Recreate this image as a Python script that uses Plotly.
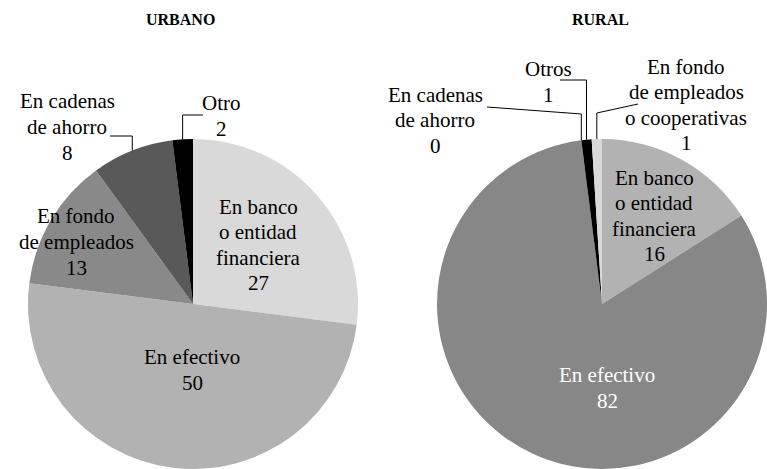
import math
import plotly.graph_objects as go

W, H = 767, 469

# --- data ---
urbano_labels = ["En banco<br>o entidad<br>financiera", "En efectivo",
                 "En fondo<br>de empleados", "En cadenas<br>de ahorro", "Otro"]
urbano_values = [27, 50, 13, 8, 2]
urbano_colors = ["#d9d9d9", "#b2b2b2", "#898989", "#595959", "#000000"]

rural_labels = ["En banco<br>o entidad<br>financiera", "En efectivo",
                "En cadenas<br>de ahorro", "Otros",
                "En fondo<br>de empleados<br>o cooperativas"]
rural_values = [16, 82, 0, 1, 1]
rural_colors = ["#b2b2b2", "#878787", "#595959", "#000000", "#d9d9d9"]

FONT = "Liberation Serif, DejaVu Serif, serif"
R = 165        # pie radius in px
LINE_H = 25.5  # label line spacing in px


def px2paper(x, y):
    return x / W, 1 - y / H


def mid_edge(values, i, cx, cy, r):
    """Point on the pie edge at the middle of slice i (clockwise from 12 o'clock)."""
    total = sum(values)
    start = sum(values[:i])
    ang = 2 * math.pi * (start + values[i] / 2) / total
    return cx + r * math.sin(ang), cy - r * math.cos(ang)


fig = go.Figure()

pies = [
    dict(name="URBANO", labels=urbano_labels, values=urbano_values, colors=urbano_colors,
         cx=193, cy=304, title_x=180),
    dict(name="RURAL", labels=rural_labels, values=rural_values, colors=rural_colors,
         cx=602, cy=304, title_x=600),
]

for p in pies:
    x0 = (p["cx"] - R) / W
    x1 = min((p["cx"] + R) / W, 1.0)
    fig.add_trace(go.Pie(
        labels=[l.replace("<br>", " ") for l in p["labels"]],
        values=p["values"],
        sort=False,
        direction="clockwise",
        rotation=0,
        textinfo="none",
        marker=dict(colors=p["colors"], line=dict(width=0)),
        domain=dict(x=[x0, x1], y=[0, 2 * R / H]),
        showlegend=False,
    ))

# label placement (px centre of text block) and leader elbows
label_pos = {
    "URBANO": [(258, 245, "black", None), (192, 370, "black", None),
               (76, 242, "black", None),
               (67, 127, "black", [("v", 136), (110, 136)]),
               (221, 116, "black", [("v", 115), (203, 115)])],
    "RURAL": [(654, 216, "black", None), (607, 388, "white", None),
              (435, 120, "black", [("v", 114), (487, 107)]),
              (548, 82, "black", [("v", 80), (560, 80)]),
              (686, 105, "black", [("v", 113), (638, 104)])],
}

annotations = []
shapes = []
for p in pies:
    tx, ty = px2paper(p["title_x"], 20)
    annotations.append(dict(
        text="<b>" + p["name"] + "</b>", x=tx, y=ty, xref="paper", yref="paper",
        showarrow=False, font=dict(family=FONT, size=16, color="black"),
        xanchor="center", yanchor="middle"))
    for i, (lab, val) in enumerate(zip(p["labels"], p["values"])):
        lx, ly, col, leader = label_pos[p["name"]][i]
        lines = lab.split("<br>") + [str(val)]
        n = len(lines)
        for k, line in enumerate(lines):
            ax, ay = px2paper(lx, ly + (k - (n - 1) / 2) * LINE_H)
            annotations.append(dict(
                text=line, x=ax, y=ay, xref="paper", yref="paper",
                showarrow=False, font=dict(family=FONT, size=21, color=col),
                xanchor="center", yanchor="middle", align="center"))
        if leader:
            sx, sy = mid_edge(p["values"], i, p["cx"], p["cy"], R)
            pts = [(sx, sy)]
            for a, b in leader:
                if a == "v":
                    pts.append((sx, b))
                else:
                    pts.append((a, b))
            path = ""
            for k, (qx, qy) in enumerate(pts):
                u, v = px2paper(qx, qy)
                path += ("M" if k == 0 else " L") + f" {u:.5f},{v:.5f}"
            shapes.append(dict(type="path", path=path, xref="paper", yref="paper",
                               line=dict(color="black", width=1)))

fig.update_layout(
    width=W, height=H,
    margin=dict(l=0, r=0, t=0, b=0),
    paper_bgcolor="white",
    plot_bgcolor="white",
    annotations=annotations,
    shapes=shapes,
    font=dict(family=FONT),
)

fig.write_html("out.html", config={"displayModeBar": False},
               post_script="document.body.style.margin='0';")
